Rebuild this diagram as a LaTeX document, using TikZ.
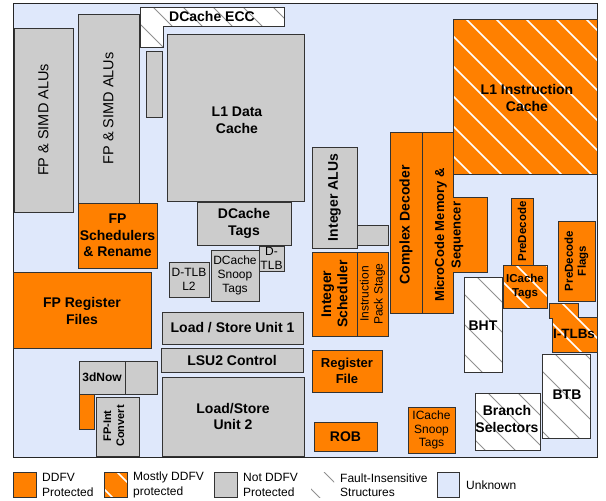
\documentclass[tikz,border=0pt]{standalone}
\usepackage{fontspec}
\setmainfont{Liberation Sans}
\usetikzlibrary{calc}
\definecolor{ddfv}{HTML}{FF8000}
\definecolor{notddfv}{HTML}{CCCCCC}
\definecolor{unk}{HTML}{DFE8FB}
\definecolor{hgray}{HTML}{909090}
\definecolor{edge}{HTML}{333333}
\newcommand\blk[6]{\node[#6,minimum width={(#4-#2)*1pt},minimum height={(#5-#3)*1pt}] (#1) at ({(#2+#4)/2},{(#3+#5)/2}) {};}
\begin{document}
\begin{tikzpicture}[x=1pt,y=-1pt,
  hatch/.style 2 args={path picture={\foreach \k in {-18,...,18}{\draw[#1,line width=#2] ($(path picture bounding box.north west)+(\k*30+13,0)$) -- ++(240,240);}}},
  bx/.style={draw=edge,line width=0.8pt,inner sep=0pt,outer sep=0pt},
  prot/.style={bx,fill=ddfv},
  notp/.style={bx,fill=notddfv},
  mostly/.style={bx,fill=ddfv,hatch={white}{1.7pt}},
  insens/.style={bx,fill=white,hatch={hgray}{1pt}},
  lbl/.style={inner sep=0pt,align=center,font=\fontsize{14}{16.5}\selectfont\bfseries},
  lblm/.style={inner sep=0pt,align=center,font=\fontsize{12}{14}\selectfont\bfseries},
  lbls/.style={inner sep=0pt,align=center,font=\fontsize{12}{14}\selectfont},
  lblr/.style={inner sep=0pt,align=center,font=\fontsize{14.5}{16.5}\selectfont},
  leg/.style={inner sep=0pt,align=left,anchor=west,font=\fontsize{12}{14.5}\selectfont},
]
\useasboundingbox (0,0) rectangle (606,501);
\blk{frame}{13}{3}{597}{457}{draw=black!85,line width=1pt,fill=unk,inner sep=0pt}
% not DDFV protected
\blk{fpa}{14}{28}{73}{212}{notp}
\node[lblr,rotate=90] (t-fpa) at (fpa) {FP \& SIMD ALUs};
\blk{fpb}{78}{14}{139}{203}{notp}
\node[lblr,rotate=90] (t-fpb) at (fpb) {FP \& SIMD ALUs};
\path[insens] (140,7) -- (284,7) -- (284,26) -- (163,26) -- (163,47) -- (140,47) -- cycle;
\node[lbl] (t-ecc) at (212,16) {DCache ECC};
\blk{sg}{146}{51}{162}{117}{notp}
\blk{l1d}{167}{34}{304}{201}{notp}
\node[lbl] (t-l1d) at (237,120) {L1 Data\\Cache};
\blk{dct}{197}{202}{291}{245}{notp}
\node[lbl] (t-dct) at (dct) {DCache\\Tags};
\blk{dtlb}{259}{246}{284}{271}{notp}
\node[lbls] (t-dtlb) at (dtlb) {D-\\TLB};
\blk{dtl2}{169}{262}{209}{297}{notp}
\node[lbls] (t-dtl2) at (dtl2) {D-TLB\\L2};
\blk{dsn}{211}{250}{259}{301}{notp}
\node[lbls] (t-dsn) at (dsn) {DCache\\Snoop\\Tags};
\blk{lsu1}{162}{312}{303}{344}{notp}
\node[lbl] (t-lsu1) at (lsu1) {Load / Store Unit 1};
\blk{lsuc}{161}{348}{303}{372}{notp}
\node[lbl] (t-lsuc) at (lsuc) {LSU2 Control};
\blk{lsu2}{162}{377}{304}{456}{notp}
\node[lbl] (t-lsu2) at (lsu2) {Load/Store\\Unit 2};
\blk{tdn}{79}{361}{125}{394}{notp}
\node[lblm] (t-tdn) at (tdn) {3dNow};
\blk{tdn2}{125}{361}{157}{394}{notp}
\blk{osm}{79}{394}{94}{429}{prot}
\blk{fpi}{96}{397}{139}{456}{notp}
\node[lblm,font=\fontsize{11}{13}\selectfont\bfseries,rotate=90] (t-fpi) at (114,426) {FP-Int\\Convert};
\blk{ialu}{312}{147}{357}{248}{notp}
\node[lbl,rotate=90] (t-ialu) at (ialu) {Integer ALUs};
\blk{ialu2}{357}{225}{388}{245}{notp}
% DDFV protected
\blk{fps}{78}{203}{157}{268}{prot}
\node[lbl] (t-fps) at (fps) {FP\\Schedulers\\\& Rename};
\blk{fpr}{13}{272}{151}{348}{prot}
\node[lbl] (t-fpr) at (82,311) {FP Register\\Files};
\blk{cdec}{390}{132}{422}{313}{prot}
\node[lbl,rotate=90] (t-cdec) at (406,225) {Complex Decoder};
\path[prot] (422,132) -- (453,132) -- (453,197) -- (487,197) -- (487,272) -- (453,272) -- (453,313) -- (422,313) -- cycle;
\node[lbl,font=\fontsize{13}{16.5}\selectfont\bfseries,rotate=90] (t-mc) at (449,235) {MicroCode Memory \&\\Sequencer};
\blk{isch}{312}{252}{357}{336}{prot}
\node[lbl,rotate=90] (t-isch) at (isch) {Integer\\Scheduler};
\blk{ipk}{357}{252}{388}{336}{prot}
\node[lbls,rotate=90] (t-ipk) at (ipk) {Instruction\\Pack Stage};
\blk{rf}{312}{350}{382}{392}{prot}
\node[lbl,font=\fontsize{13}{15.5}\selectfont\bfseries] (t-rf) at (347,371) {Register\\File};
\blk{rob}{314}{422}{377}{451}{prot}
\node[lbl] (t-rob) at (rob) {ROB};
\blk{ics}{408}{407}{455}{453}{prot}
\node[lbls,font=\fontsize{12}{13.3}\selectfont] (t-ics) at (ics) {ICache\\Snoop\\Tags};
\blk{pd}{511}{198}{533}{265}{prot}
\node[lblm,font=\fontsize{11.5}{14}\selectfont\bfseries,rotate=90] (t-pd) at (pd) {PreDecode};
\blk{pdf}{558}{221}{595}{301}{prot}
\node[lblm,font=\fontsize{11.5}{13}\selectfont\bfseries,rotate=90] (t-pdf) at (pdf) {PreDecode\\Flags};
% mostly DDFV protected
\blk{l1i}{453}{19}{597}{174}{mostly}
\node[lbl] (t-l1i) at (527,98) {L1 Instruction\\Cache};
\blk{ict}{503}{265}{547}{308}{mostly}
\node[lblm,font=\fontsize{11.5}{13.5}\selectfont\bfseries] (t-ict) at (ict) {ICache\\Tags};
\path[mostly] (549,303) -- (578,303) -- (578,317) -- (597,317) -- (597,352) -- (552,352) -- (552,318) -- (549,318) -- cycle;
\node[lbl,font=\fontsize{13.5}{16}\selectfont\bfseries] (t-itlb) at (574,334) {I-TLBs};
% fault insensitive
\blk{bht}{464}{277}{502}{372}{insens}
\node[lbl] (t-bht) at (483,326) {BHT};
\blk{btb}{542}{354}{590}{438}{insens}
\node[lbl] (t-btb) at (567,395) {BTB};
\blk{brs}{475}{393}{540}{450}{insens}
\node[lbl] (t-brs) at (507,419) {Branch\\Selectors};
% legend
\blk{lg1}{13}{472}{36}{497}{prot}
\node[leg] (lt1) at (42,485) {DDFV\\Protected};
\blk{lg2}{104}{472}{127}{497}{mostly}
\node[leg] (lt2) at (133,485) {Mostly DDFV\\protected};
\blk{lg3}{214}{472}{237}{497}{notp}
\node[leg] (lt3) at (243,485) {Not DDFV\\Protected};
\blk{lg4}{311}{472}{334}{497}{insens,draw=none}
\node[leg] (lt4) at (340,485) {Fault-Insensitive\\Structures};
\blk{lg5}{437}{472}{459}{497}{bx,fill=unk}
\node[leg] (lt5) at (466,485) {Unknown};
\end{tikzpicture}
\end{document}
